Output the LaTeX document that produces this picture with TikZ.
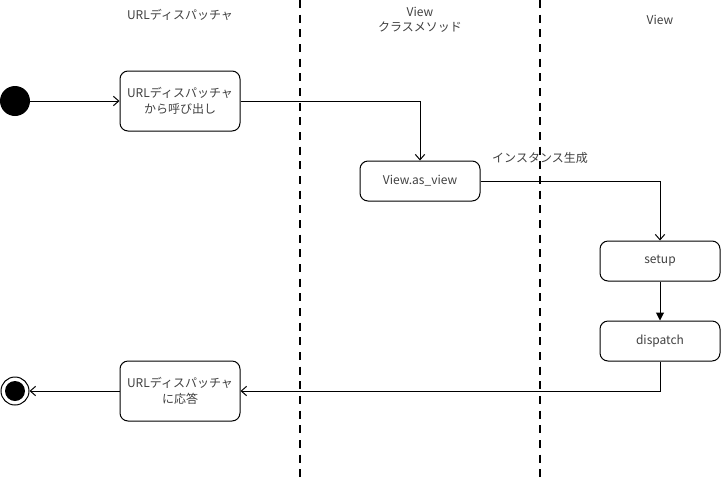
\documentclass[tikz,border=0pt]{standalone}
\usepackage{fontspec}
\setmainfont{Liberation Sans}
\newfontfamily\jpfont{Noto Sans CJK JP}
\usepackage{tikz}
\usetikzlibrary{positioning}
\usetikzlibrary{arrows.meta}

\begin{document}
\begin{tikzpicture}[x=0.75pt,y=-0.75pt,
	state/.style={draw, rounded corners=6pt, minimum width=90pt, align=center,
		text=black!75, font=\jpfont\fontsize{9}{11.5}\selectfont, line width=0.75pt},
	lane/.style={text=black!75, align=center, font=\jpfont\fontsize{9}{11.5}\selectfont},
	flow/.style={line width=0.75pt, -{Straight Barb[length=4pt,width=7pt]}},
	push/.style={line width=0.75pt, -{Triangle[length=6pt,width=6pt]}},
	divider/.style={line width=1.5pt, dash pattern=on 6pt off 5pt}
	]

	% frame of the whole diagram
	\useasboundingbox (0,0) rectangle (721,483);

	% swimlane dividers
	\draw[divider] (300,0) -- (300,483);
	\draw[divider] (540,0) -- (540,483);

	% lane headers
	\node[lane] (H1) at (180,15) {URLディスパッチャ};
	\node[lane] (H2) at (420,20) {View\\クラスメソッド};
	\node[lane] (H3) at (660,20) {View};

	% start and end points
	\node[circle, fill=black, minimum size=22.5pt, inner sep=0pt] (Start) at (15,101) {};
	\node[circle, draw, line width=0.75pt, minimum size=21pt, inner sep=0pt] (End) at (15,391) {};
	\node[circle, fill=black, minimum size=15pt, inner sep=0pt] (EndDot) at (End) {};

	% states
	\node[state, minimum height=45pt] (Call) at (180,101) {URLディスパッチャ\\から呼び出し};
	\node[state, minimum height=30pt] (AsView) at (420,181) {View.as\_view};
	\node[state, minimum height=30pt] (Setup) at (660,261) {setup};
	\node[state, minimum height=30pt] (Dispatch) at (660,341) {dispatch};
	\node[state, minimum height=45pt] (Reply) at (180,391) {URLディスパッチャ\\に応答};

	% label on the instance step
	\node[lane] (Make) at (540,158) {インスタンス生成};

	% transitions
	\draw[flow] (Start) -- (Call);
	\draw[flow] (Call.east) -| (AsView.north);
	\draw[flow] (AsView.east) -| (Setup.north);
	\draw[push] (Setup) -- (Dispatch);
	\draw[flow] (Dispatch.south) |- (Reply.east);
	\draw[flow] (Reply.west) -- (End);

\end{tikzpicture}
\end{document}
